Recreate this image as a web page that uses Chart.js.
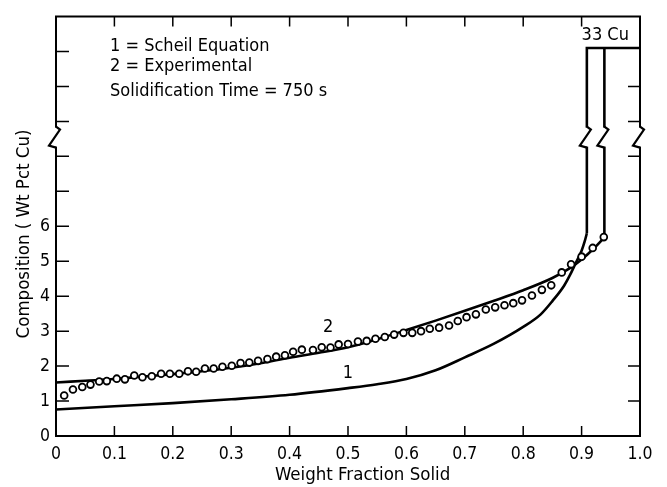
<!DOCTYPE html>
<html><head><meta charset="utf-8">
<script src="https://cdn.jsdelivr.net/npm/chart.js@4.4.0/dist/chart.umd.min.js"></script>
<style>html,body{margin:0;padding:0;background:#fff;}</style>
</head><body>
<canvas id="c" width="667" height="487"></canvas>
<script>
// ---- data ----
const xTickValues = [0, 0.1, 0.2, 0.3, 0.4, 0.5, 0.6, 0.7, 0.8, 0.9, 1.0];
const yTickValues = [0, 1, 2, 3, 4, 5, 6, 7, 8, 9, 10, 11, 12];
const yLabelledMax = 6;

// curve 1: Scheil equation (smooth part, then jump to 33 Cu)
const scheilX = [0, 0.1, 0.2, 0.3, 0.4, 0.5, 0.55, 0.6, 0.65, 0.7, 0.75, 0.8, 0.83, 0.85, 0.87, 0.88, 0.89, 0.9, 0.905, 0.909];
const scheilY = [0.76, 0.85, 0.94, 1.05, 1.18, 1.37, 1.48, 1.63, 1.88, 2.25, 2.64, 3.12, 3.48, 3.86, 4.3, 4.6, 4.95, 5.3, 5.55, 5.8];
const scheilJumpX = [0.909, 0.909, 1.0];
const scheilJumpY = [5.8, 11.1, 11.1];

// curve 2: experimental (smooth line, then jump to 33 Cu)
const expLineX = [0, 0.05, 0.1, 0.15, 0.2, 0.25, 0.3, 0.35, 0.4, 0.45, 0.5, 0.55, 0.6, 0.65, 0.7, 0.75, 0.8, 0.85, 0.88, 0.9, 0.92, 0.939];
const expLineY = [1.53, 1.58, 1.63, 1.70, 1.77, 1.85, 1.95, 2.08, 2.24, 2.38, 2.54, 2.77, 3.03, 3.30, 3.58, 3.87, 4.17, 4.52, 4.8, 5.05, 5.35, 5.68];
const expJumpX = [0.939, 0.939];
const expJumpY = [5.68, 11.1];

// measured points (circles)
const expPtsX = [0.014, 0.029, 0.045, 0.059, 0.074, 0.087, 0.104, 0.118, 0.134, 0.148, 0.164, 0.180, 0.195, 0.211, 0.226, 0.240,
  0.255, 0.270, 0.285, 0.301, 0.316, 0.331, 0.346, 0.362, 0.377, 0.392, 0.406, 0.421, 0.440, 0.455, 0.470, 0.484,
  0.500, 0.517, 0.532, 0.547, 0.563, 0.579, 0.595, 0.610, 0.625, 0.640, 0.656, 0.673, 0.688, 0.703, 0.719,
  0.736, 0.752, 0.768, 0.783, 0.798, 0.815, 0.832, 0.848, 0.866, 0.882, 0.900, 0.919, 0.938];
const expPtsY = [1.16, 1.33, 1.40, 1.47, 1.56, 1.57, 1.64, 1.62, 1.73, 1.68, 1.71, 1.78, 1.78, 1.78, 1.85, 1.84,
  1.93, 1.93, 1.98, 2.01, 2.09, 2.10, 2.15, 2.20, 2.27, 2.31, 2.41, 2.47, 2.46, 2.54, 2.53, 2.62,
  2.63, 2.70, 2.72, 2.78, 2.83, 2.90, 2.95, 2.95, 3.00, 3.07, 3.10, 3.16, 3.29, 3.40, 3.48,
  3.62, 3.68, 3.74, 3.80, 3.88, 4.02, 4.18, 4.31, 4.68, 4.91, 5.13, 5.38, 5.69];

const breakLo = 8.25, breakHi = 8.85;

const xTitle = 'Weight Fraction Solid';
const yTitle = 'Composition ( Wt Pct Cu)';
const legendLines = ['1 = Scheil Equation', '2 = Experimental', 'Solidification Time = 750 s'];
const legendPos = {x: 0.0925, y: [11.16, 10.57, 9.86]};
const curveLabels = [{t: '2', x: 0.466, y: 3.12}, {t: '1', x: 0.50, y: 1.78}];
const cuLabel = {t: '33 Cu', x: 0.9, y: 11.47};

const FONT = '"Liberation Sans Narrow", "DejaVu Sans Condensed", "Liberation Sans", sans-serif';

const toPts = (xs, ys) => xs.map((v, i) => ({x: v, y: ys[i]}));

const decor = {
  id: 'decor',
  afterDatasetsDraw(chart) {
    const {ctx, chartArea: a, scales: {x, y}} = chart;
    ctx.save();
    ctx.strokeStyle = '#000';
    ctx.lineWidth = 2;
    ctx.beginPath();
    ctx.moveTo(a.left, a.top); ctx.lineTo(a.right, a.top);
    ctx.lineTo(a.right, a.bottom); ctx.lineTo(a.left, a.bottom); ctx.closePath();
    ctx.stroke();
    ctx.lineWidth = 1.5;
    ctx.beginPath();
    xTickValues.forEach(v => {
      if (v <= 0 || v >= 1) return;
      const px = x.getPixelForValue(v);
      ctx.moveTo(px, a.bottom); ctx.lineTo(px, a.bottom - 10);
      ctx.moveTo(px, a.top); ctx.lineTo(px, a.top + 10);
    });
    yTickValues.forEach(v => {
      if (v <= 0 || v >= 12) return;
      const py = y.getPixelForValue(v);
      ctx.moveTo(a.left, py); ctx.lineTo(a.left + 13, py);
      if (v < 11) { ctx.moveTo(a.right, py); ctx.lineTo(a.right - 12, py); }
    });
    ctx.stroke();
    // axis / curve breaks
    const yHi = y.getPixelForValue(breakHi), yLo = y.getPixelForValue(breakLo);
    [0, scheilJumpX[0], expJumpX[0], 1].forEach(v => {
      const px = x.getPixelForValue(v);
      ctx.fillStyle = '#fff';
      ctx.fillRect(px - 3, yHi + 1, 6, yLo - yHi - 2);
      ctx.lineWidth = 2.2;
      ctx.beginPath();
      ctx.moveTo(px, yHi); ctx.lineTo(px + 4, yHi + 3);
      ctx.lineTo(px - 7, yLo - 2); ctx.lineTo(px, yLo);
      ctx.stroke();
    });
    // texts
    ctx.fillStyle = '#000';
    ctx.font = '18px ' + FONT;
    ctx.textBaseline = 'middle';
    ctx.textAlign = 'left';
    legendLines.forEach((t, i) => ctx.fillText(t, x.getPixelForValue(legendPos.x), y.getPixelForValue(legendPos.y[i])));
    ctx.textAlign = 'center';
    curveLabels.forEach(l => ctx.fillText(l.t, x.getPixelForValue(l.x), y.getPixelForValue(l.y)));
    ctx.textAlign = 'left';
    ctx.fillText(cuLabel.t, x.getPixelForValue(cuLabel.x), y.getPixelForValue(cuLabel.y));
    // axis titles
    ctx.font = '18.5px ' + FONT;
    ctx.textAlign = 'center';
    ctx.fillText(xTitle, x.getPixelForValue(0.525), chart.height - 12);
    ctx.translate(24, y.getPixelForValue(5.78));
    ctx.rotate(-Math.PI / 2);
    ctx.fillText(yTitle, 0, 0);
    ctx.restore();
  }
};

const lineStyle = {showLine: true, borderColor: '#000', borderWidth: 2.6, pointRadius: 0};

new Chart(document.getElementById('c'), {
  type: 'scatter',
  data: {
    datasets: [
      Object.assign({label: 'Scheil', data: toPts(scheilX, scheilY), cubicInterpolationMode: 'monotone', order: 4}, lineStyle),
      Object.assign({label: 'Scheil jump', data: toPts(scheilJumpX, scheilJumpY), tension: 0, order: 4}, lineStyle),
      Object.assign({label: 'Experimental line', data: toPts(expLineX, expLineY), cubicInterpolationMode: 'monotone', order: 3}, lineStyle),
      Object.assign({label: 'Experimental jump', data: toPts(expJumpX, expJumpY), tension: 0, order: 3}, lineStyle),
      {label: 'Experimental', data: toPts(expPtsX, expPtsY), showLine: false, pointRadius: 3.4, pointBorderWidth: 1.8, pointBorderColor: '#000', pointBackgroundColor: '#fff', order: 1}
    ]
  },
  options: {
    responsive: false, animation: false, devicePixelRatio: 1,
    layout: {padding: {top: 12, right: 27, left: 0, bottom: 0}},
    plugins: {legend: {display: false}, tooltip: {enabled: false}},
    scales: {
      x: {
        type: 'linear', min: 0, max: 1,
        afterFit: s => { s.height = 51; },
        afterBuildTicks: s => { s.ticks = xTickValues.map(v => ({value: v})); },
        ticks: {color: '#000', padding: 8, font: {family: FONT, size: 17.5}, maxRotation: 0, autoSkip: false,
          callback: v => v === 0 ? '0' : Number(v).toFixed(1)},
        grid: {display: false, drawTicks: false},
        border: {display: false},
        title: {display: false}
      },
      y: {
        type: 'linear', min: 0, max: 12,
        afterFit: s => { s.width = 56; },
        afterBuildTicks: s => { s.ticks = yTickValues.map(v => ({value: v})); },
        ticks: {color: '#000', padding: 6, font: {family: FONT, size: 17.5}, autoSkip: false,
          callback: v => v <= yLabelledMax ? String(v) : ''},
        grid: {display: false, drawTicks: false},
        border: {display: false},
        title: {display: false}
      }
    }
  },
  plugins: [decor]
});
</script>
</body></html>
